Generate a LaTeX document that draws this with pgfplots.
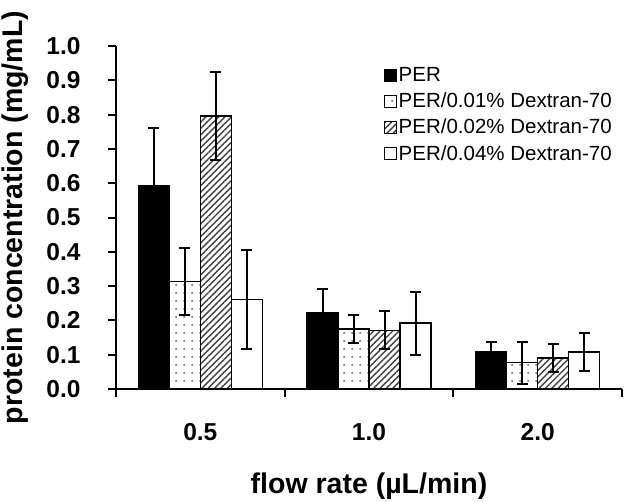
\documentclass[border=0pt]{standalone}
\usepackage{pgfplots}
\pgfplotsset{compat=1.18}
\usepackage{pgfplotstable}
\usetikzlibrary{patterns.meta}
\usepackage{fontspec}
\setmainfont{Liberation Sans}

\pgfplotstableread{
x y e
0 0.592 0.168
1 0.222 0.070
2 0.109 0.028
}\per
\pgfplotstableread{
x y e
0 0.313 0.098
1 0.175 0.042
2 0.077 0.061
}\dexa
\pgfplotstableread{
x y e
0 0.796 0.129
1 0.171 0.055
2 0.090 0.041
}\dexb
\pgfplotstableread{
x y e
0 0.260 0.144
1 0.192 0.092
2 0.108 0.056
}\dexc

\begin{document}
\begin{tikzpicture}
\begin{axis}[
  name=ax,
  scale only axis, width=506pt, height=343pt,
  xmin=-0.5, xmax=2.5, ymin=0, ymax=1,
  axis x line=bottom, axis y line=left,
  axis line style={-, line width=2.6pt, black},
  xtick={0,1,2}, xticklabels={0.5,1.0,2.0},
  major x tick style={draw=none},
  minor xtick={-0.5,0.5,1.5,2.5},
  ytick={0,0.1,0.2,0.3,0.4,0.5,0.6,0.7,0.8,0.9,1.0},
  yticklabel style={/pgf/number format/fixed, /pgf/number format/fixed zerofill, /pgf/number format/precision=1},
  /pgf/number format/assume math mode=true,
  tick align=outside,
  tick style={line width=2pt, black},
  major tick length=8pt, minor tick length=8pt,
  ticklabel style={font=\fontsize{24.5}{24.5}\selectfont\bfseries},
  xticklabel style={yshift=-23pt},
  yticklabel style={xshift=-24pt},
  xlabel={flow rate (µL/min)},
  ylabel={protein concentration (mg/mL)},
  label style={font=\fontsize{28.5}{28.5}\selectfont\bfseries},
  xlabel style={at={(rel axis cs:0.5,0)}, anchor=base, yshift=-104pt},
  ylabel style={at={(rel axis cs:0,0.5)}, anchor=center, yshift=101pt},
  ybar=0pt, bar width=31pt,
  every axis plot/.append style={draw=black, line width=1.3pt,
    error bars/y dir=both, error bars/y explicit,
    error bars/error bar style={line width=2pt, black},
    error bars/error mark options={rotate=90, mark size=5.5pt, line width=2pt, black}},
  legend style={at={(rel axis cs:0.53,0.938)}, anchor=north west, draw=none, fill=none,
    font=\fontsize{20.5}{20.5}\selectfont, row sep=9.8pt, inner sep=0pt,
    nodes={inner xsep=1.5pt, inner ysep=0pt}},
  legend cell align=left,
  legend image code/.code={\draw[#1, line width=0.8pt] (0pt,-6pt) rectangle (12pt,6pt);},
]
\addplot[fill=black] table[x=x, y=y, y error=e]{\per};
\addplot[fill=white, postaction={pattern={Dots[distance=8pt, radius=1pt]}, pattern color=black!65}] table[x=x, y=y, y error=e]{\dexa};
\addplot[fill=white, postaction={pattern={Lines[angle=45, distance=4.5pt, line width=1.4pt]}, pattern color=black!75}] table[x=x, y=y, y error=e]{\dexb};
\addplot[fill=white] table[x=x, y=y, y error=e]{\dexc};
\legend{PER, PER/0.01\% Dextran-70, PER/0.02\% Dextran-70, PER/0.04\% Dextran-70}
\end{axis}
\pgfresetboundingbox
\useasboundingbox ([shift={(-116pt,-112pt)}]ax.south west) rectangle ([shift={(515pt,389pt)}]ax.south west);
\end{tikzpicture}
\end{document}
